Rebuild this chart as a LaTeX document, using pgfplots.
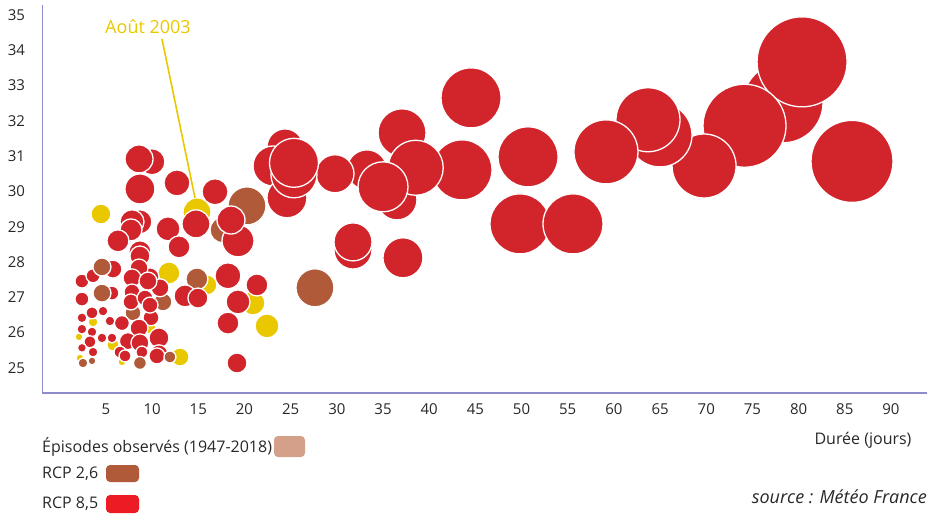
\documentclass[border=0pt]{standalone}
\usepackage{pgfplots}
\pgfplotsset{compat=1.18}
\usepackage{pgfplotstable}
\usepackage{fontspec}
\setmainfont{Open Sans}

\definecolor{cRed}{RGB}{209,36,43}
\definecolor{cBrown}{RGB}{176,90,58}
\definecolor{cYellow}{RGB}{234,200,0}
\definecolor{cObs}{RGB}{212,160,138}
\definecolor{cRed85}{RGB}{237,28,36}
\definecolor{cAxis}{RGB}{140,140,200}
\definecolor{cText}{RGB}{40,40,40}

% x = duree (jours), y = temperature, r = rayon de la bulle (pt)
\pgfplotstableread{
x y r
4.46 29.36 10
14.86 29.42 14
11.82 27.69 11
15.94 27.35 10
20.92 26.84 12
22.44 26.19 12
13.02 25.31 9
3.60 26.30 5
2.08 25.88 4
6.73 25.17 4
2.19 25.28 4
9.77 26.13 6
5.76 25.65 6
}\observed

\pgfplotstableread{
x y r
20.27 29.59 19
17.67 28.91 13
14.85 27.52 11
11.17 26.87 9
7.93 26.56 8
}\rcplowA

\pgfplotstableread{
x y r
27.63 27.27 19
4.57 27.86 9
4.57 27.12 9
11.93 25.31 6
8.68 25.14 6.5
2.51 25.14 5
3.49 25.20 4
}\rcplowB

\pgfplotstableread{
x y r
78.31 32.51 40
80.37 33.67 45
74.14 31.86 41.5
69.76 30.72 32
85.78 30.85 41
64.99 31.60 32
63.69 32.03 32
59.14 31.12 32
50.70 30.98 30
49.83 29.08 30
55.57 29.08 30
44.53 32.65 30
43.55 30.61 30
36.51 29.76 20
33.26 30.61 20
37.06 31.66 24
38.54 30.67 27.5
35.00 30.13 25
29.80 30.50 19
24.39 31.26 18
23.09 30.72 20
24.60 29.82 20
25.36 30.47 23
25.36 30.81 24.5
31.75 28.34 19
31.75 28.57 19
37.16 28.12 20
19.30 28.60 16
18.54 29.19 14
16.81 29.99 13
18.21 27.61 13
21.35 27.35 11
19.30 26.87 12
18.21 26.27 11
19.19 25.14 10
9.98 30.84 13
8.58 30.92 14
8.68 30.07 15
12.69 30.24 13
8.68 29.14 12
7.82 29.14 12
7.71 28.91 11
6.30 28.60 11
8.68 28.29 11
11.72 28.94 12
12.91 28.43 11
14.75 29.08 14
13.56 27.04 11
14.96 26.98 10
10.74 25.85 10
10.74 25.40 9
9.88 26.42 8
9.77 27.58 9
10.85 27.27 9
5.76 27.80 9
2.40 27.46 7
3.60 27.61 7
2.40 26.95 7
5.65 27.12 7
8.68 28.17 10
8.58 27.83 9
7.82 27.55 9
9.55 27.46 9
7.82 27.15 8
7.71 26.87 8
9.23 26.98 8
9.77 26.78 8
3.49 26.56 6
2.40 26.42 5
4.68 26.61 5
5.43 26.33 5
6.73 26.27 7.5
8.58 26.13 9
2.40 26.10 5
3.49 26.02 5
4.57 25.85 5
5.65 25.85 5
3.27 25.74 6
7.38 25.76 8.5
8.68 25.71 9
2.40 25.57 4.5
3.60 25.45 5
6.52 25.45 6
7.07 25.34 6
8.90 25.45 6
10.52 25.34 8
}\rcphigh

\pgfplotsset{
  bubble/.style={
    scatter, only marks, mark=*,
    scatter/use mapped color={draw=white, fill=#1},
    visualization depends on={\thisrow{r} \as \rr},
    scatter/@pre marker code/.append style={/tikz/mark size=\rr},
    mark options={line width=1.3pt},
  },
}

\begin{document}
\begin{tikzpicture}
\path[use as bounding box] (0,0) rectangle (927pt,515pt);
\begin{axis}[
    at={(42.5pt,122pt)}, anchor=south west,
    scale only axis,
    width=884.5pt, height=388pt,
    xmin=-1.87, xmax=93.9,
    ymin=24.29, ymax=35.28,
    axis lines*=left,
    axis line style={color=cAxis, line width=1.5pt},
    xtick={5,10,...,90},
    ytick={25,26,...,35},
    major tick length=0pt,
    tick label style={font=\fontsize{15}{18}\selectfont, text=cText},
    /pgf/number format/assume math mode=true,
    xticklabel style={yshift=-7pt},
    yticklabel style={xshift=-14pt},
    clip=false,
]
\addplot[bubble=cYellow] table {\observed};
\addplot[bubble=cBrown] table {\rcplowA};
\addplot[bubble=cRed] table {\rcphigh};
\addplot[bubble=cBrown] table {\rcplowB};
\end{axis}

% annotation
\node[text=cYellow, font=\fontsize{18}{21}\selectfont] at (148pt,488pt) {Août 2003};
\draw[cYellow, line width=1.6pt] (162pt,476pt) -- (195pt,317pt);

% axis title
\node[text=cText, font=\fontsize{16}{19}\selectfont] at (863pt,75pt) {Durée (jours)};

% legend
\node[anchor=west, inner sep=0pt, text=cText, font=\fontsize{16}{19}\selectfont] at (42pt,68pt) {Épisodes observés (1947-2018)};
\fill[cObs, rounded corners=4pt] (274pt,58pt) rectangle (305pt,79pt);
\node[anchor=west, inner sep=0pt, text=cText, font=\fontsize{16}{19}\selectfont] at (42pt,41pt) {RCP 2,6};
\fill[cBrown, rounded corners=4pt] (106pt,33pt) rectangle (139pt,50pt);
\node[anchor=west, inner sep=0pt, text=cText, font=\fontsize{16}{19}\selectfont] at (42pt,11pt) {RCP 8,5};
\fill[cRed85, rounded corners=4pt] (106pt,2pt) rectangle (139pt,20pt);

% source
\node[anchor=east, inner sep=0pt, text=cText, font=\fontsize{18}{21}\selectfont\itshape] at (927pt,18pt) {source : Météo France};
\end{tikzpicture}
\end{document}
